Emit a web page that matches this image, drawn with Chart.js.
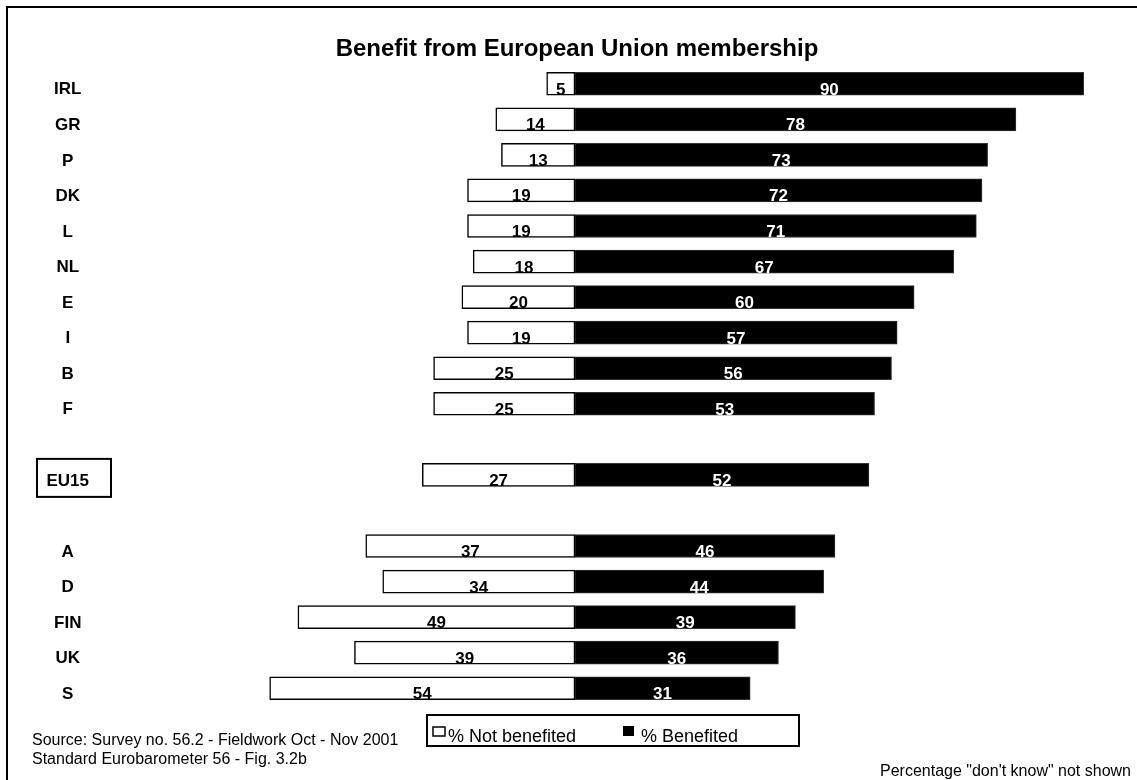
<!DOCTYPE html>
<html>
<head>
<meta charset="utf-8">
<script src="https://cdn.jsdelivr.net/npm/chart.js@4"></script>
<style>
  html, body { margin: 0; padding: 0; background: #fff; }
  #wrap { position: relative; width: 1137px; height: 780px; }
</style>
</head>
<body>
<div id="wrap"><canvas id="chart" width="1137" height="780"></canvas></div>
<script>
// Data (blank rows give the gaps around EU15)
const countries = ['IRL', 'GR', 'P', 'DK', 'L', 'NL', 'E', 'I', 'B', 'F', '', 'EU15', '', 'A', 'D', 'FIN', 'UK', 'S'];
const notBenefited = [5, 14, 13, 19, 19, 18, 20, 19, 25, 25, null, 27, null, 37, 34, 49, 39, 54];
const benefited = [90, 78, 73, 72, 71, 67, 60, 57, 56, 53, null, 52, null, 46, 44, 39, 36, 31];
const seriesNames = ['% Not benefited', '% Benefited'];

const FONT = "'Liberation Sans', Arial, sans-serif";

// Frame, title, footnotes, EU15 box, legend
const decorations = {
  id: 'decorations',
  beforeDraw(chart) {
    const ctx = chart.ctx;
    ctx.save();
    ctx.fillStyle = '#fff';
    ctx.fillRect(0, 0, chart.width, chart.height);
    ctx.restore();
  },
  afterDraw(chart) {
    const ctx = chart.ctx;
    const yScale = chart.scales.y;
    ctx.save();

    // outer frame (only top and left visible)
    ctx.strokeStyle = '#000';
    ctx.lineWidth = 2;
    ctx.beginPath();
    ctx.moveTo(7, chart.height);
    ctx.lineTo(7, 7);
    ctx.lineTo(chart.width, 7);
    ctx.stroke();

    // title
    ctx.fillStyle = '#000';
    ctx.font = 'bold 24px ' + FONT;
    ctx.textAlign = 'center';
    ctx.textBaseline = 'alphabetic';
    ctx.fillText('Benefit from European Union membership', 577, 56);

    // box around EU15 label
    const iEU = countries.indexOf('EU15');
    const yEU = yScale.getPixelForTick(iEU) + 3;
    ctx.lineWidth = 2;
    ctx.strokeRect(37, yEU - 19, 74, 38);

    // source notes
    ctx.font = '16px ' + FONT;
    ctx.textAlign = 'left';
    ctx.fillText('Source: Survey no. 56.2 - Fieldwork Oct - Nov 2001', 32, 745);
    ctx.fillText('Standard Eurobarometer 56 - Fig. 3.2b', 32, 764);
    ctx.textAlign = 'right';
    ctx.fillText('Percentage "don\'t know" not shown', 1131, 776);

    // legend
    ctx.lineWidth = 2;
    ctx.strokeRect(427, 715, 372, 31);
    const ds = chart.data.datasets;
    ctx.font = '18px ' + FONT;
    ctx.textAlign = 'left';
    ctx.lineWidth = 1.5;
    ctx.fillStyle = ds[0].backgroundColor;
    ctx.fillRect(433, 727, 12, 9);
    ctx.strokeRect(433, 727, 12, 9);
    ctx.fillStyle = '#000';
    ctx.fillText(ds[0].label, 448, 742);
    ctx.fillStyle = ds[1].backgroundColor;
    ctx.fillRect(623, 726, 11, 10);
    ctx.fillStyle = '#000';
    ctx.fillText(ds[1].label, 641, 742);

    ctx.restore();
  }
};

// numbers inside the bars
const barValues = {
  id: 'barValues',
  afterDatasetsDraw(chart) {
    const ctx = chart.ctx;
    ctx.save();
    ctx.font = 'bold 17px ' + FONT;
    ctx.textAlign = 'center';
    ctx.textBaseline = 'alphabetic';
    chart.data.datasets.forEach((ds, di) => {
      const meta = chart.getDatasetMeta(di);
      const raw = di === 0 ? notBenefited : benefited;
      meta.data.forEach((bar, i) => {
        if (raw[i] == null) return;
        const x = (bar.x + bar.base) / 2;
        ctx.fillStyle = di === 0 ? '#000' : '#fff';
        ctx.fillText(String(raw[i]), x, bar.y + 11);
      });
    });
    ctx.restore();
  }
};

new Chart(document.getElementById('chart'), {
  type: 'bar',
  data: {
    labels: countries,
    datasets: [
      {
        label: seriesNames[0],
        data: notBenefited.map(v => v == null ? null : -v),
        backgroundColor: '#ffffff',
        borderColor: '#000000',
        borderWidth: 1.5,
        borderSkipped: false,
        barThickness: 23
      },
      {
        label: seriesNames[1],
        data: benefited,
        backgroundColor: '#000000',
        borderColor: '#333333',
        borderWidth: 1,
        borderSkipped: false,
        barThickness: 23
      }
    ]
  },
  options: {
    indexAxis: 'y',
    responsive: false,
    animation: false,
    layout: { padding: { left: 0, right: 25, top: 66, bottom: 74 } },
    plugins: {
      legend: { display: false },
      title: { display: false },
      tooltip: { enabled: false }
    },
    scales: {
      x: {
        stacked: true,
        min: -55,
        max: 95,
        display: false
      },
      y: {
        stacked: true,
        grid: { display: false, drawTicks: false },
        border: { display: false },
        afterFit(scale) {
          scale.width = 264;
          // the big tick padding must not eat vertical space
          scale.paddingTop = 0;
          scale.paddingBottom = 0;
        },
        ticks: {
          color: '#000',
          font: { family: FONT, size: 17, weight: 'bold' },
          crossAlign: 'center',
          padding: 175,
          labelOffset: 6,
          autoSkip: false
        }
      }
    }
  },
  plugins: [decorations, barValues]
});
</script>
</body>
</html>
